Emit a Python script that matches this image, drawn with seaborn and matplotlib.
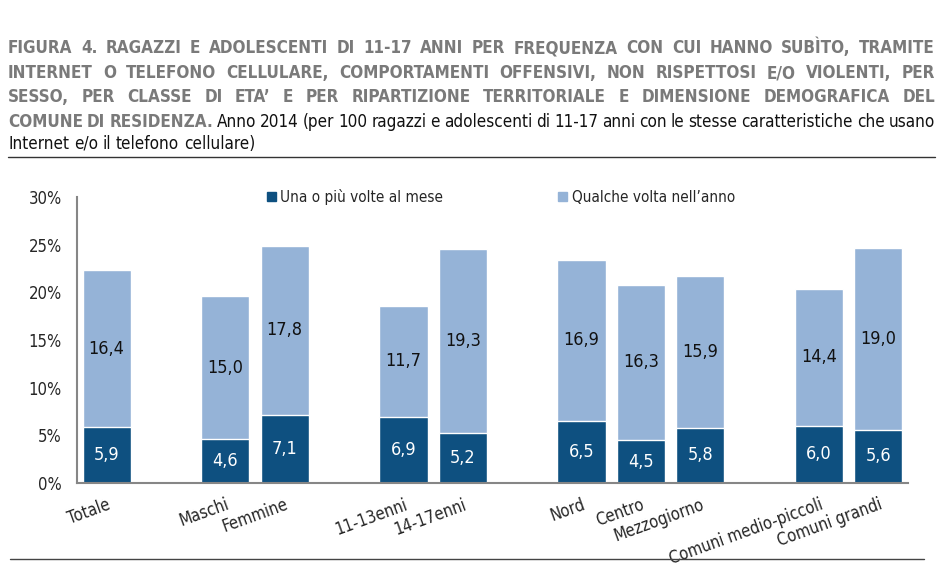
import numpy as np
import pandas as pd
import seaborn as sns
import matplotlib.pyplot as plt
from matplotlib.patches import Patch
from matplotlib.lines import Line2D

# data
categories = ["Totale", "Maschi", "Femmine", "11-13enni", "14-17enni",
              "Nord", "Centro", "Mezzogiorno", "Comuni medio-piccoli", "Comuni grandi"]
monthly = [5.9, 4.6, 7.1, 6.9, 5.2, 6.5, 4.5, 5.8, 6.0, 5.6]
yearly = [16.4, 15.0, 17.8, 11.7, 19.3, 16.9, 16.3, 15.9, 14.4, 19.0]
series_names = ["Una o più volte al mese", "Qualche volta nell’anno"]
y_ticks = [0, 5, 10, 15, 20, 25, 30]

title_lines = [
    [("FIGURA 4. RAGAZZI E ADOLESCENTI DI 11-17 ANNI PER FREQUENZA CON CUI HANNO SUBÌTO, TRAMITE", True)],
    [("INTERNET O TELEFONO CELLULARE, COMPORTAMENTI OFFENSIVI, NON RISPETTOSI E/O VIOLENTI, PER", True)],
    [("SESSO, PER CLASSE DI ETA’ E PER RIPARTIZIONE TERRITORIALE E DIMENSIONE DEMOGRAFICA DEL", True)],
    [("COMUNE DI RESIDENZA.", True),
     ("Anno 2014 (per 100 ragazzi e adolescenti di 11-17 anni con le stesse caratteristiche che usano", False)],
    [("Internet e/o il telefono cellulare)", False)],
]

# layout: empty slots between groups
order = ["Totale", "gap1", "Maschi", "Femmine", "gap2", "11-13enni", "14-17enni", "gap3",
         "Nord", "Centro", "Mezzogiorno", "gap4", "Comuni medio-piccoli", "Comuni grandi"]

DARK = "#0E5080"
LIGHT = "#95B3D7"
AXIS = "#868686"

sns.set_style("white")
plt.rcParams["font.family"] = ["DejaVu Sans"]
plt.rcParams["font.stretch"] = "condensed"

df = pd.DataFrame({"categoria": categories, "mese": monthly, "anno": yearly})
df["totale"] = df["mese"] + df["anno"]

W, H = 945, 577
X0, X1 = 8, 935
fig = plt.figure(figsize=(W / 100, H / 100), dpi=100)
renderer = fig.canvas.get_renderer()


def build(parts, y_px, s):
    objs, widths = [], []
    for txt, bold in parts:
        for w in txt.split():
            t = fig.text(0, 1 - y_px / H, w, fontsize=s,
                         fontweight="bold" if bold else "normal",
                         color="#7a7a7a" if bold else "#111111",
                         ha="left", va="baseline")
            objs.append(t)
            widths.append(t.get_window_extent(renderer).width)
    return objs, widths


def fit_size(parts, s=13):
    objs, widths = build(parts, 0, s)
    for t in objs:
        t.remove()
    need = sum(widths) + 0.24 * s * 100 / 72 * (len(objs) - 1)
    return min(s, s * (X1 - X0) / need)


def text_line(parts, y_px, s, justify=True):
    objs, widths = build(parts, y_px, s)
    if justify:
        gap = (X1 - X0 - sum(widths)) / (len(objs) - 1)
    else:
        gap = 0.28 * s * 100 / 72
    x = X0
    for t, w in zip(objs, widths):
        t.set_x(x / W)
        x += w + gap


title_size = min(fit_size(p) for p in title_lines[:4])
for i, (parts, y) in enumerate(zip(title_lines, [53, 78, 102, 127, 149])):
    text_line(parts, y, title_size, justify=i < 4)

fig.add_artist(Line2D([8 / W, 935 / W], [1 - 157 / H] * 2, color="#333333", lw=1))
fig.add_artist(Line2D([10 / W, 924 / W], [1 - 559 / H] * 2, color="#444444", lw=1))

ax = fig.add_axes([77 / W, (H - 483) / H, 831 / W, 286 / H])
sns.barplot(data=df, x="categoria", y="totale", order=order, color=LIGHT,
            saturation=1, width=0.81, errorbar=None, ax=ax)
sns.barplot(data=df, x="categoria", y="mese", order=order, color=DARK,
            saturation=1, width=0.81, errorbar=None, ax=ax)

for cat, m, a in zip(categories, monthly, yearly):
    xi = order.index(cat)
    ax.text(xi, m / 2, f"{m:.1f}".replace(".", ","), ha="center", va="center",
            color="white", fontsize=13)
    ax.text(xi, m + a / 2, f"{a:.1f}".replace(".", ","), ha="center", va="center",
            color="#111111", fontsize=13)

ax.set_xlim(-0.5, len(order) - 0.5)
ax.set_ylim(0, 30)
ax.set_yticks(y_ticks)
ax.set_yticklabels([f"{v}%" for v in y_ticks], fontsize=12)
ax.set_xticks(range(len(order)))
ax.set_xticklabels([c if not c.startswith("gap") else "" for c in order],
                   fontsize=12, rotation=20, ha="right", rotation_mode="anchor", va="top")
ax.set_xticks(np.arange(-0.5, len(order), 1), minor=True)
ax.tick_params(axis="x", which="major", length=0, pad=9)
ax.tick_params(axis="x", which="minor", length=6, color=AXIS, width=1.2, direction="out")
ax.tick_params(axis="y", length=5, color=AXIS, width=1.2, direction="out", pad=6)
ax.set_xlabel("")
ax.set_ylabel("")
for s in ["top", "right"]:
    ax.spines[s].set_visible(False)
for s in ["left", "bottom"]:
    ax.spines[s].set_color(AXIS)
    ax.spines[s].set_linewidth(1.5)

handles = [Patch(color=DARK), Patch(color=LIGHT)]
ax.legend(handles, series_names, loc="center", bbox_to_anchor=(0.51, 1.0), ncol=2,
          frameon=False, fontsize=11, handlelength=0.6, handleheight=0.6,
          handletextpad=0.3, columnspacing=7.5)

fig.savefig("out.png", dpi=100)
